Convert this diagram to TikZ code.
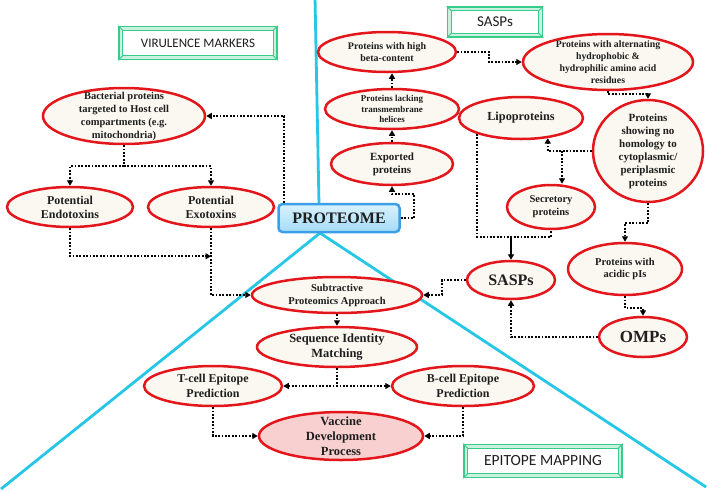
\documentclass[tikz,border=0pt]{standalone}
\usepackage{fontspec}
\setmainfont{Liberation Serif}
\newfontfamily\boxfont{Carlito}
\usetikzlibrary{shapes.geometric,arrows.meta,calc}
\definecolor{ered}{HTML}{E3161B}
\definecolor{efill}{HTML}{FAF8F0}
\definecolor{vfill}{HTML}{F8D0D0}
\definecolor{cyanl}{HTML}{26C6E6}
\definecolor{gbox}{HTML}{36CC8A}
\definecolor{gband}{HTML}{C9F1DD}
\definecolor{pblue}{HTML}{3A9FE6}
\definecolor{ptop}{HTML}{D8F2FD}
\definecolor{pbot}{HTML}{A6DBF6}
\definecolor{txtc}{HTML}{1E1E1E}
\newcommand\greenframe[6]{%
  \node[draw=gbox, line width=1.6pt, minimum width=#3, minimum height=#4, inner sep=0pt, fill=gband] (#1) at (#2) {};
  \draw[gbox, line width=1.2pt, fill=white] ($(#1.north west)+(4.5,4.5)$) rectangle ($(#1.south east)+(-4.5,-4.5)$);
  \draw[gbox, line width=1pt] (#1.north west) -- +(4.5,4.5) (#1.north east) -- +(-4.5,4.5)
        (#1.south west) -- +(4.5,-4.5) (#1.south east) -- +(-4.5,-4.5);
  \node[inner sep=0pt, font=\boxfont\fontsize{#6}{#6}\selectfont, text=txtc] (#1T) at (#1) {#5};
}
\begin{document}
\begin{tikzpicture}[x=1pt,y=-1pt,
  ell/.style={ellipse, draw=ered, line width=2.5pt, fill=efill, inner sep=0pt},
  etext/.style={align=center, text=txtc, inner sep=0pt},
  conn/.style={line width=1.8pt, dash pattern=on 1.8pt off 1.6pt, -{Triangle[length=5.5pt,width=6pt]}},
  dotl/.style={line width=1.8pt, dash pattern=on 1.8pt off 1.6pt},
  solidarrow/.style={line width=1.5pt, -{Triangle[length=5.5pt,width=6pt]}},
  blueline/.style={cyanl, line width=2.8pt},
]
\useasboundingbox (0,0) rectangle (708,490);
\fill[white] (0,0) rectangle (708,490);

% blue dividing lines
\coordinate (topA) at (315,-3);
\coordinate (topB) at (319,205);
\coordinate (apex) at (320,233);
\coordinate (botL) at (1,489);
\coordinate (botR) at (706,487);
\draw[blueline] (topA) -- (topB);
\draw[blueline] (botL) -- (apex) -- (botR);

% section labels
\greenframe{vir}{198,43}{158}{33}{VIRULENCE MARKERS}{13}
\greenframe{sasplab}{495,22}{95}{30}{SASPs}{15}
\greenframe{epi}{543,461}{158}{33}{EPITOPE MAPPING}{15.5}

% central node
\node[draw=pblue, line width=2.5pt, top color=ptop, bottom color=pbot, rounded corners=4pt,
      minimum width=121, minimum height=28, inner sep=0pt,
      font=\fontsize{16}{18}\selectfont\bfseries, text=txtc] (prot) at (339,218) {PROTEOME};

% ellipses
\node[ell, minimum width=162, minimum height=56] (bact) at (124,116) {};
\node[etext, font=\fontsize{10.5}{13}\selectfont\bfseries] (bactT) at (bact) {Bacterial proteins\\targeted to Host cell\\compartments (e.g.\\mitochondria)};
\node[ell, minimum width=126, minimum height=40] (endo) at (70,207) {};
\node[etext, font=\fontsize{12}{14}\selectfont\bfseries] (endoT) at (endo) {Potential\\Endotoxins};
\node[ell, minimum width=126, minimum height=40] (exo) at (211,207) {};
\node[etext, font=\fontsize{12}{14}\selectfont\bfseries] (exoT) at (exo) {Potential\\Exotoxins};

\node[ell, minimum width=138, minimum height=40] (beta) at (387,52) {};
\node[etext, font=\fontsize{10}{12}\selectfont\bfseries] (betaT) at (beta) {Proteins with high\\beta-content};
\node[ell, minimum width=134, minimum height=40] (lack) at (392,109) {};
\node[etext, font=\fontsize{9}{10.5}\selectfont\bfseries] (lackT) at (lack) {Proteins lacking\\transmembrane\\helices};
\node[ell, minimum width=122, minimum height=42] (expo) at (392,164) {};
\node[etext, font=\fontsize{11}{13}\selectfont\bfseries] (expoT) at (expo) {Exported\\proteins};

\node[ell, minimum width=170, minimum height=56] (alt) at (608,62) {};
\node[etext, font=\fontsize{9.8}{12}\selectfont\bfseries] (altT) at (alt) {Proteins with alternating\\hydrophobic \&\\hydrophilic amino acid\\residues};
\node[ell, minimum width=124, minimum height=42] (lipo) at (521,118) {};
\node[etext, font=\fontsize{12.3}{14}\selectfont\bfseries] (lipoT) at (lipo) {Lipoproteins};
\node[ell, minimum width=110, minimum height=102] (nohom) at (648,151) {};
\node[etext, font=\fontsize{11}{13}\selectfont\bfseries] (nohomT) at (nohom) {Proteins\\showing no\\homology to\\cytoplasmic/\\periplasmic\\proteins};
\node[ell, minimum width=88, minimum height=44] (secr) at (551,207) {};
\node[etext, font=\fontsize{10.5}{13}\selectfont\bfseries] (secrT) at (secr) {Secretory\\proteins};
\node[ell, minimum width=88, minimum height=38] (sasps) at (511,280) {};
\node[etext, font=\fontsize{16}{18}\selectfont\bfseries] (saspsT) at (sasps) {SASPs};
\node[ell, minimum width=114, minimum height=52] (acid) at (625,269) {};
\node[etext, font=\fontsize{10.5}{11.5}\selectfont\bfseries] (acidT) at (acid) {Proteins with\\acidic pIs};
\node[ell, minimum width=88, minimum height=40] (omps) at (643,337) {};
\node[etext, font=\fontsize{17}{19}\selectfont\bfseries] (ompsT) at (omps) {OMPs};

\node[ell, minimum width=170, minimum height=36] (subt) at (337,295) {};
\node[etext, font=\fontsize{10.5}{13}\selectfont\bfseries] (subtT) at (subt) {Subtractive\\Proteomics Approach};
\node[ell, minimum width=160, minimum height=40] (seq) at (337,347) {};
\node[etext, font=\fontsize{12.5}{15.5}\selectfont\bfseries] (seqT) at (seq) {Sequence Identity\\Matching};
\node[ell, minimum width=138, minimum height=40] (tcell) at (213,386) {};
\node[etext, font=\fontsize{12}{15}\selectfont\bfseries] (tcellT) at (tcell) {T-cell Epitope\\Prediction};
\node[ell, minimum width=142, minimum height=40] (bcell) at (463,386) {};
\node[etext, font=\fontsize{12}{15}\selectfont\bfseries] (bcellT) at (bcell) {B-cell Epitope\\Prediction};
\node[ell, fill=vfill, minimum width=164, minimum height=48] (vacc) at (341,436) {};
\node[etext, font=\fontsize{12.5}{15}\selectfont\bfseries] (vaccT) at (vacc) {Vaccine\\Development\\Process};

% connectors: virulence side
\draw[conn] ([xshift=7pt]prot.north west) |- (bact.east);
\coordinate (b1) at ($(bact.south)+(0,21)$);
\draw[dotl] (bact.south) -- (b1);
\draw[conn] (b1) -| (endo.north);
\draw[conn] (b1) -| (exo.north);
\coordinate (j1) at ($(exo.south)+(0,28)$);
\draw[conn] (endo.south) |- (j1);
\draw[conn] (exo.south) |- (subt.west);

% connectors: SASP side
\draw[conn] (prot.east) -| ($(expo.south)+(22,8)$) -| (expo.south);
\draw[conn] (expo.north) -- (lack.south);
\draw[conn] (lack.north) -- (lack.north |- beta.south);
\draw[conn] (beta.east) -- ++(32,0) |- (alt.west);
\draw[conn] (alt.south) -- ++(0,3) -| (nohom.north);
\draw[conn] (nohom.west) -| (lipo.-37);
\draw[conn] ([xshift=11pt]secr.north |- nohom.west) -- ([xshift=11pt]secr.north);
\coordinate (j2) at ($(sasps.north)+(0,-23)$);
\draw[dotl] (lipo.-160) |- (j2) -| (secr.south);
\draw[solidarrow] (j2) -- (sasps.north);
\draw[conn] (sasps.west) -- ++(-24,0) |- (subt.east);
\draw[conn] (omps.west) -| (sasps.south);
\draw[conn] (nohom.south) -- ++(0,20) -| (acid.north);
\draw[conn] (acid.south) -- ++(0,12) -| (omps.north);

% connectors: epitope side
\draw[conn] (subt.south) -- (seq.north);
\draw[conn] (seq.south) |- (tcell.east);
\draw[conn] (seq.south) |- (bcell.west);
\draw[conn] (tcell.south) |- (vacc.west);
\draw[conn] (bcell.south) |- (vacc.east);
\end{tikzpicture}
\end{document}
